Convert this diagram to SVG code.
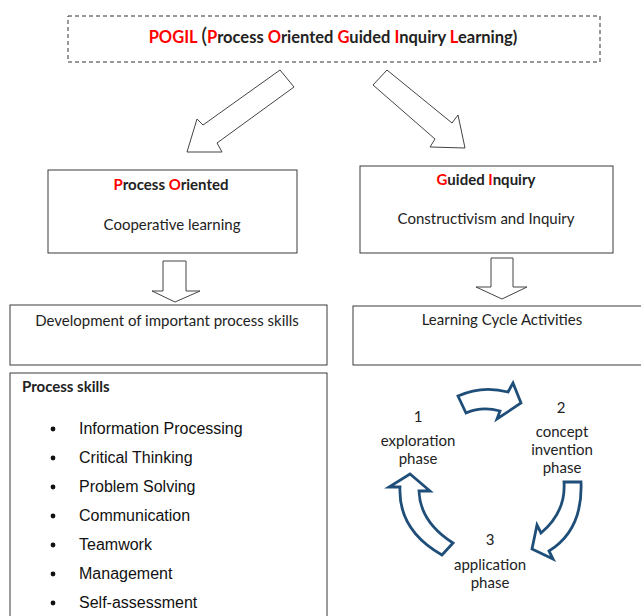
<svg xmlns="http://www.w3.org/2000/svg" width="641" height="616" viewBox="0 0 641 616">
<style>
.box{fill:#fff;stroke:#3a3a3a;stroke-width:1}
.dash{fill:#fff;stroke:#333;stroke-width:1;stroke-dasharray:4 3}
.t{font-family:Lato,"Liberation Sans",sans-serif;font-size:15px;fill:#222}
.b{font-family:Lato,"Liberation Sans",sans-serif;font-size:15px;font-weight:bold;fill:#222}
.r{fill:#ff0000}
.li{font-family:"Liberation Sans",Arial,sans-serif;font-size:16px;fill:#111}
.blk{fill:#fff;stroke:#444;stroke-width:1;stroke-linejoin:miter}
.cyc{fill:#fff;stroke:#1f4e79;stroke-width:2.8;stroke-linejoin:miter}
.c{text-anchor:middle}
</style>
<rect width="641" height="616" fill="#fff"/>

<g id="title">
<rect class="dash" x="68" y="16" width="532" height="46"/>
<text class="b c" x="333" y="43" style="font-size:16.5px"><tspan class="r">POGIL</tspan> <tspan style="font-size:22px;font-weight:normal">(</tspan><tspan class="r">P</tspan>rocess <tspan class="r">O</tspan>riented <tspan class="r">G</tspan>uided <tspan class="r">I</tspan>nquiry <tspan class="r">L</tspan>earning)</text>
</g>

<g id="process-oriented">
<rect class="box" x="48" y="170" width="249" height="83"/>
<text class="b c" x="171" y="190"><tspan class="r">P</tspan>rocess <tspan class="r">O</tspan>riented</text>
<text class="t c" x="172" y="230">Cooperative learning</text>
</g>

<g id="guided-inquiry">
<rect class="box" x="360" y="166" width="253" height="87"/>
<text class="b c" x="486" y="185"><tspan class="r">G</tspan>uided <tspan class="r">I</tspan>nquiry</text>
<text class="t c" x="486" y="224">Constructivism and Inquiry</text>
</g>

<g id="development">
<rect class="box" x="10" y="305" width="317" height="60"/>
<text class="t c" x="167" y="326">Development of important process skills</text>
</g>

<g id="learning-cycle">
<rect class="box" x="353" y="306" width="300" height="59"/>
<text class="t c" x="502" y="325">Learning Cycle Activities</text>
</g>

<g id="process-skills">
<rect class="box" x="10" y="373" width="317" height="250"/>
<text class="b" x="22" y="392">Process skills</text>
<g class="li">
<circle cx="53" cy="429" r="2.4" fill="#111"/><text x="79" y="434">Information Processing</text>
<circle cx="53" cy="458" r="2.4" fill="#111"/><text x="79" y="463">Critical Thinking</text>
<circle cx="53" cy="487" r="2.4" fill="#111"/><text x="79" y="492">Problem Solving</text>
<circle cx="53" cy="516" r="2.4" fill="#111"/><text x="79" y="521">Communication</text>
<circle cx="53" cy="545" r="2.4" fill="#111"/><text x="79" y="550">Teamwork</text>
<circle cx="53" cy="574" r="2.4" fill="#111"/><text x="79" y="579">Management</text>
<circle cx="53" cy="603" r="2.4" fill="#111"/><text x="79" y="608">Self-assessment</text>
</g>
</g>

<g id="phase-1">
<text class="t c" x="418" y="422">1</text>
<text class="t c" x="418" y="446">exploration</text>
<text class="t c" x="418" y="464">phase</text>
</g>
<g id="phase-2">
<text class="t c" x="561" y="413">2</text>
<text class="t c" x="562" y="437">concept</text>
<text class="t c" x="562" y="455">invention</text>
<text class="t c" x="562" y="473">phase</text>
</g>
<g id="phase-3">
<text class="t c" x="490" y="545">3</text>
<text class="t c" x="490" y="570">application</text>
<text class="t c" x="490" y="588">phase</text>
</g>

<g id="connectors">
<polygon class="blk" points="280,70 294,87 217,143 222,152 187,152 197,119 203,125"/>
<polygon class="blk" points="387,70 373,85 435,139 430,147 465,148 458,115 452,123"/>
<polygon class="blk" points="163,261 186,261 186,291 200,291 175,302 152,291 163,291"/>
<polygon class="blk" points="491,258 513,258 513,287 527,287 502,299 476,287 491,287"/>
<path class="cyc" d="M458,396 Q482,385 508,392 L513,383 L521,403 L497,419 L500,411 Q482,406 466,413 Z"/>
<path class="cyc" d="M564,482 L581,482 Q583,530 549,551 L553,559 L532,549 L537,525 L541,533 Q566,512 564,482 Z"/>
<path class="cyc" d="M453,543 Q420,522 419,491 L430,491 L410,474 L389,487 L400,487 Q398,530 442,555 Z"/>
</g>
</svg>
